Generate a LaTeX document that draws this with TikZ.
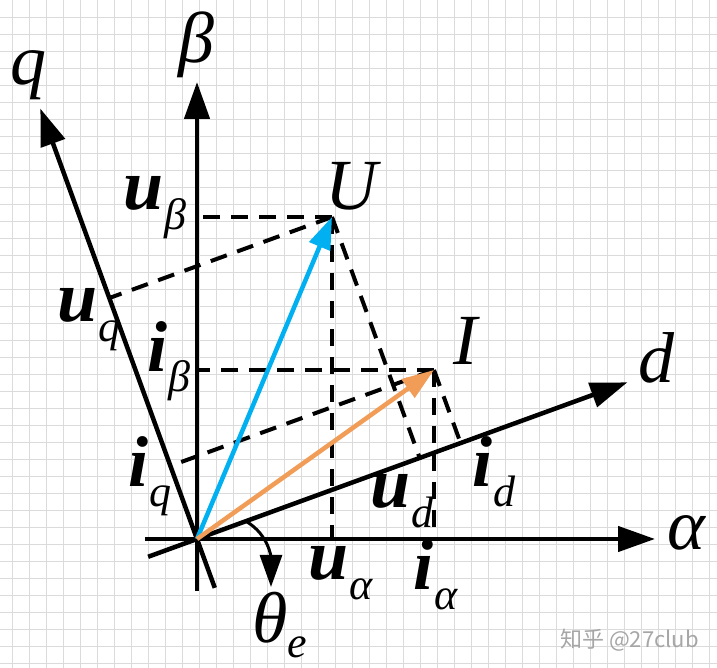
\documentclass[tikz,border=0pt]{standalone}
\usepackage{fontspec}
\setmainfont{Liberation Serif}
\newfontfamily\cjkfont{Noto Sans CJK SC}
\usepackage{xcolor}
\usetikzlibrary{arrows.meta,calc,positioning}
\definecolor{ublue}{RGB}{0,176,240}
\definecolor{iorange}{RGB}{241,157,88}
\newcommand{\bigsz}{\fontsize{72}{80}\selectfont}
\newcommand{\subsz}{\fontsize{44}{50}\selectfont}
\newcommand{\vlab}[2]{{\bigsz\bfseries\itshape #1}\kern1pt\raisebox{-20pt}{\subsz\itshape #2}}

\begin{document}
\begin{tikzpicture}[x=1pt,y=1pt,
    axis/.style={line width=4.5pt,-{Triangle[length=37pt,width=25pt]}},
    proj/.style={line width=4pt,dash pattern=on 17pt off 11pt},
    vec/.style={line width=4.5pt,-{Triangle[length=32pt,width=22pt]}},
    gridline/.style={black!14,line width=0.8pt},
    lab/.style={inner sep=0pt,anchor=base west}]
    \useasboundingbox (-197,-129) rectangle (520,539);
    \fill[white] (-197,-129) rectangle (520,539);
    % grid paper
    \foreach \k in {0,...,42}
        \draw[gridline] ({-184.7+17*\k},-129) -- ({-184.7+17*\k},539);
    \foreach \k in {0,...,39}
        \draw[gridline] (-197,{521.7-17*\k}) -- (520,{521.7-17*\k});

    \coordinate (O) at (0,0);
    \coordinate (Atail) at (-52,0);
    \coordinate (Atip) at (458,0);
    \coordinate (Btail) at (0,-52);
    \coordinate (Btip) at (0,457);
    \coordinate (Qtail) at (290:52);
    \coordinate (Qtip) at (110:458);
    \coordinate (Dtail) at (200:52);
    \coordinate (Dtip) at (20:458);
    \coordinate (U) at (135,322);
    \coordinate (I) at (237,169);

    % projections
    \coordinate (Ua) at ($(O)!(U)!(Atip)$);
    \coordinate (Ub) at ($(O)!(U)!(Btip)$);
    \coordinate (Uq) at ($(O)!(U)!(Qtip)$);
    \coordinate (Ud) at ($(O)!(U)!(Dtip)$);
    \coordinate (Ia) at ($(O)!(I)!(Atip)$);
    \coordinate (Ib) at ($(O)!(I)!(Btip)$);
    \coordinate (Iq) at ($(O)!(I)!(Qtip)$);
    \coordinate (Id) at ($(O)!(I)!(Dtip)$);
    \draw[proj] (U) -- (Ub);
    \draw[proj] (U) -- (Ua);
    \draw[proj] (U) -- (Uq);
    \draw[proj] (U) -- (Ud);
    \draw[proj] (I) -- (Ib);
    \draw[proj] (I) -- (Ia);
    \draw[proj] (I) -- (Iq);
    \draw[proj] (I) -- (Id);

    % axes
    \draw[axis] (Atail) -- (Atip);
    \draw[axis] (Btail) -- (Btip);
    \draw[axis] (Qtail) -- (Qtip);
    \draw[axis] (Dtail) -- (Dtip);

    % vectors
    \draw[vec,ublue] (O) -- (U);
    \draw[vec,iorange] (O) -- (I);

    % angle
    \coordinate (th1) at (20:52);
    \coordinate (th2) at (74,-48);
    \draw[line width=3pt,-{Triangle[length=32pt,width=22pt]}] (th1) to[out=-30,in=90] (th2);

    \node[lab] (alab) at (470,-11) {\bigsz\itshape α};
    \node[lab] (blab) at (-19,476) {\bigsz\itshape β};
    \node[lab] (qlab) at (-187,454) {\bigsz\itshape q};
    \node[lab] (dlab) at (441,156) {\bigsz\itshape d};
    \node[lab] (Ulab) at (128,329) {\bigsz\itshape U};
    \node[lab] (Ilab) at (256,174) {\bigsz\itshape I};
    \node[lab] (ublab) at (-74,329) {\vlab{u}{β}};
    \node[lab] (uqlab) at (-140,217) {\vlab{u}{q}};
    \node[lab] (iblab) at (-50,167) {\vlab{i}{β}};
    \node[lab] (iqlab) at (-69,52) {\vlab{i}{q}};
    \node[lab] (ualab) at (111,-41) {\vlab{u}{α}};
    \node[lab] (ialab) at (216,-51) {\vlab{i}{α}};
    \node[lab] (udlab) at (173,31) {\vlab{u}{d}};
    \node[lab] (idlab) at (275,52) {\vlab{i}{d}};
    \node[lab] (thlab) at (55,-104) {{\bigsz\itshape θ}\raisebox{-15pt}{\subsz\itshape e}};
    \node[lab,text=black!35] (mark) at (363,-109) {\cjkfont\fontsize{22}{26}\selectfont 知乎 @27club};
\end{tikzpicture}
\end{document}
